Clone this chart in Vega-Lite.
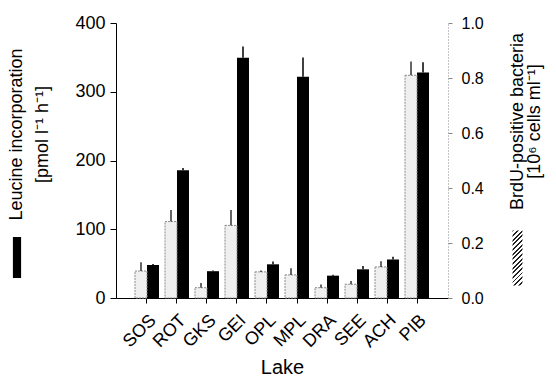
{
  "$schema": "https://vega.github.io/schema/vega-lite/v6.json",
  "width": 332,
  "height": 275,
  "autosize": {"type": "none"},
  "padding": {"left": 116, "top": 23, "right": 108, "bottom": 81},
  "background": "white",
  "config": {
    "view": {"stroke": null},
    "font": "Liberation Sans",
    "axis": {"grid": false, "labelColor": "black", "titleColor": "black", "titleFontWeight": "normal", "labelFont": "Liberation Sans", "titleFont": "Liberation Sans"}
  },
  "data": {
    "values": [
      {"lake": "SOS", "series": "BrdU", "value": 0.098, "upper": 0.13},
      {"lake": "ROT", "series": "BrdU", "value": 0.278, "upper": 0.32},
      {"lake": "GKS", "series": "BrdU", "value": 0.0375, "upper": 0.055},
      {"lake": "GEI", "series": "BrdU", "value": 0.264, "upper": 0.32},
      {"lake": "OPL", "series": "BrdU", "value": 0.095, "upper": 0.1},
      {"lake": "MPL", "series": "BrdU", "value": 0.084, "upper": 0.108},
      {"lake": "DRA", "series": "BrdU", "value": 0.0375, "upper": 0.049},
      {"lake": "SEE", "series": "BrdU", "value": 0.05, "upper": 0.062},
      {"lake": "ACH", "series": "BrdU", "value": 0.113, "upper": 0.134},
      {"lake": "PIB", "series": "BrdU", "value": 0.81, "upper": 0.86},
      {"lake": "SOS", "series": "Leucine", "value": 48, "upper": 49.5},
      {"lake": "ROT", "series": "Leucine", "value": 186, "upper": 189},
      {"lake": "GKS", "series": "Leucine", "value": 39, "upper": 40},
      {"lake": "GEI", "series": "Leucine", "value": 349.5, "upper": 366},
      {"lake": "OPL", "series": "Leucine", "value": 49, "upper": 53},
      {"lake": "MPL", "series": "Leucine", "value": 322, "upper": 350},
      {"lake": "DRA", "series": "Leucine", "value": 32.5, "upper": 34},
      {"lake": "SEE", "series": "Leucine", "value": 41.7, "upper": 46.5},
      {"lake": "ACH", "series": "Leucine", "value": 56, "upper": 60},
      {"lake": "PIB", "series": "Leucine", "value": 328, "upper": 343}
    ]
  },
  "encoding": {
    "x": {
      "field": "lake", "type": "nominal", "sort": null,
      "scale": {"paddingInner": 0.2, "paddingOuter": 0.633},
      "axis": {
        "title": "Lake", "labelAngle": -45, "labelAlign": "right", "labelBaseline": "top",
        "labelFontSize": 18, "labelPadding": 8, "tickSize": 5, "domainColor": "black", "tickColor": "black",
        "titleFontSize": 20, "titleY": 75, "titleBaseline": "alphabetic"
      }
    },
    "xOffset": {"field": "series", "type": "nominal", "scale": {"domain": ["BrdU", "Leucine"], "paddingInner": 0, "paddingOuter": 0}}
  },
  "layer": [
    {
      "transform": [{"filter": "datum.series === 'Leucine'"}],
      "encoding": {
        "y": {
          "field": "value", "type": "quantitative", "scale": {"domain": [0, 400]},
          "axis": {
            "orient": "left", "values": [0, 100, 200, 300, 400], "title": ["Leucine incorporation", "[pmol l⁻¹ h⁻¹]"],
            "domainColor": "black", "tickColor": "black", "tickSize": 6, "labelFontSize": 18, "labelPadding": 5,
            "titleFontSize": 18, "titleX": -91, "titleY": 111, "titleAngle": 270, "titleAlign": "center", "titleBaseline": "bottom", "titleLineHeight": 26
          }
        }
      },
      "layer": [
        {
          "mark": {"type": "bar"},
          "encoding": {
            "color": {
              "datum": "Leucine incorporation", "type": "nominal", "scale": {"range": ["black"]},
              "legend": {"orient": "none", "legendX": -119.5, "legendY": 214, "title": null, "labelExpr": "''", "symbolType": "M-0.2,-1H0.2V1H-0.2Z", "symbolSize": 1681, "symbolStrokeWidth": 0, "padding": 0}
            }
          }
        },
        {
          "mark": {"type": "rule", "color": "black", "strokeWidth": 1.5},
          "encoding": {"y2": {"field": "upper"}}
        }
      ]
    },
    {
      "transform": [{"filter": "datum.series === 'BrdU'"}],
      "encoding": {
        "y": {
          "field": "value", "type": "quantitative", "scale": {"domain": [0, 1]},
          "axis": {
            "orient": "right", "values": [0, 0.2, 0.4, 0.6, 0.8, 1], "format": ".1f", "title": ["BrdU-positive bacteria", "[10⁶ cells ml⁻¹]"],
            "domainColor": "#888", "domainDash": [1, 2], "tickColor": "#888", "tickSize": 4, "labelFontSize": 16, "labelPadding": 9,
            "titleFontSize": 18, "titleX": 78, "titleY": 98, "titleAngle": 270, "titleAlign": "center", "titleBaseline": "bottom", "titleLineHeight": 17
          }
        }
      },
      "layer": [
        {
          "mark": {"type": "bar", "fill": "#efefef", "stroke": "#8c8c8c", "strokeDash": [2, 1], "strokeWidth": 1}
        },
        {
          "mark": {"type": "rule", "color": "#333", "strokeWidth": 1.5},
          "encoding": {"y2": {"field": "upper"}}
        },
        {
          "mark": {"type": "point", "filled": true, "size": 0, "stroke": "#444", "strokeWidth": 1, "opacity": 1,
            "fill": {"gradient": "linear", "x1": 0, "y1": 0, "x2": 0.206, "y2": 1.143, "stops": [
                {"offset": 0, "color": "#222"}, {"offset": 0.03, "color": "#222"}, {"offset": 0.03, "color": "#fff"}, {"offset": 0.0714, "color": "#fff"},
                {"offset": 0.0714, "color": "#222"}, {"offset": 0.1014, "color": "#222"}, {"offset": 0.1014, "color": "#fff"}, {"offset": 0.1429, "color": "#fff"},
                {"offset": 0.1429, "color": "#222"}, {"offset": 0.1729, "color": "#222"}, {"offset": 0.1729, "color": "#fff"}, {"offset": 0.2143, "color": "#fff"},
                {"offset": 0.2143, "color": "#222"}, {"offset": 0.2443, "color": "#222"}, {"offset": 0.2443, "color": "#fff"}, {"offset": 0.2857, "color": "#fff"},
                {"offset": 0.2857, "color": "#222"}, {"offset": 0.3157, "color": "#222"}, {"offset": 0.3157, "color": "#fff"}, {"offset": 0.3571, "color": "#fff"},
                {"offset": 0.3571, "color": "#222"}, {"offset": 0.3871, "color": "#222"}, {"offset": 0.3871, "color": "#fff"}, {"offset": 0.4286, "color": "#fff"},
                {"offset": 0.4286, "color": "#222"}, {"offset": 0.4586, "color": "#222"}, {"offset": 0.4586, "color": "#fff"}, {"offset": 0.5, "color": "#fff"},
                {"offset": 0.5, "color": "#222"}, {"offset": 0.53, "color": "#222"}, {"offset": 0.53, "color": "#fff"}, {"offset": 0.5714, "color": "#fff"},
                {"offset": 0.5714, "color": "#222"}, {"offset": 0.6014, "color": "#222"}, {"offset": 0.6014, "color": "#fff"}, {"offset": 0.6429, "color": "#fff"},
                {"offset": 0.6429, "color": "#222"}, {"offset": 0.6729, "color": "#222"}, {"offset": 0.6729, "color": "#fff"}, {"offset": 0.7143, "color": "#fff"},
                {"offset": 0.7143, "color": "#222"}, {"offset": 0.7443, "color": "#222"}, {"offset": 0.7443, "color": "#fff"}, {"offset": 0.7857, "color": "#fff"},
                {"offset": 0.7857, "color": "#222"}, {"offset": 0.8157, "color": "#222"}, {"offset": 0.8157, "color": "#fff"}, {"offset": 0.8571, "color": "#fff"},
                {"offset": 0.8571, "color": "#222"}, {"offset": 0.8871, "color": "#222"}, {"offset": 0.8871, "color": "#fff"}, {"offset": 0.9286, "color": "#fff"},
                {"offset": 0.9286, "color": "#222"}, {"offset": 0.9586, "color": "#222"}, {"offset": 0.9586, "color": "#fff"}, {"offset": 1, "color": "#fff"}
              ]}},
          "encoding": {
            "shape": {
              "datum": "BrdU-positive bacteria", "type": "nominal",
              "scale": {"range": ["M-0.18,-1H0.18V1H-0.18Z"]},
              "legend": {"orient": "none", "legendX": 373.5, "legendY": 207, "title": null, "labelExpr": "''", "symbolSize": 3025, "symbolStrokeColor": "#444", "symbolStrokeWidth": 1, "padding": 0}
            }
          }
        }
      ]
    }
  ],
  "resolve": {"scale": {"y": "independent", "color": "independent", "shape": "independent"}, "legend": {"color": "independent", "shape": "independent"}}
}
